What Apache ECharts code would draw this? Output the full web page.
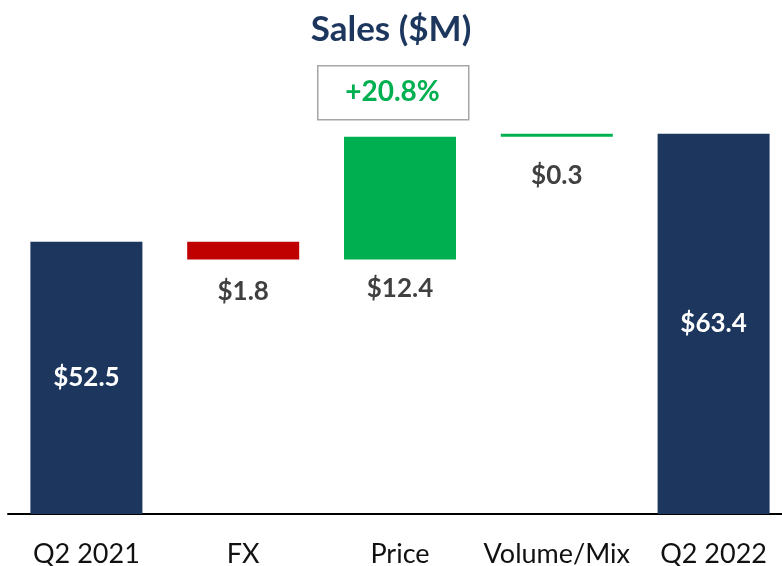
<!DOCTYPE html>
<html>
<head>
<meta charset="utf-8">
<script src="https://cdn.jsdelivr.net/npm/echarts@6/dist/echarts.min.js"></script>
<style>
  html, body { margin: 0; padding: 0; background: #fff; }
  #chart { width: 782px; height: 566px; }
</style>
</head>
<body>
<div id="chart"></div>
<script>
const categories = ["Q2 2021", "FX", "Price", "Volume/Mix", "Q2 2022"];
// waterfall: hidden base + visible step
const baseValues = [0, 50.7, 50.7, 63.1, 0];
const stepValues = [52.5, 1.8, 12.4, 0.3, 63.4];
const stepColors = ["#1D365E", "#C00000", "#00B050", "#00B050", "#1D365E"];
const startTotal = 52.5;
const endTotal = 63.4;

const FONT = "Lato, 'Open Sans', sans-serif";
const NAVY = "#1D365E";
const GRAY_TEXT = "#404040";

let changePct = ((endTotal / startTotal - 1) * 100).toFixed(1);

let chartDom = document.getElementById("chart");
let myChart = echarts.init(chartDom);

// label placement per bar (totals inside, deltas below)
const labelSpots = [
  { position: "inside", color: "#fff", distance: 0 },
  { position: "bottom", color: GRAY_TEXT, distance: 19 },
  { position: "bottom", color: GRAY_TEXT, distance: 16 },
  { position: "bottom", color: GRAY_TEXT, distance: 26 },
  { position: "inside", color: "#fff", distance: 0 },
];

let option = {
  animation: false,
  title: {
    text: "Sales ($M)",
    left: "center",
    top: 7,
    textStyle: {
      fontFamily: FONT,
      fontSize: 35,
      fontWeight: "bold",
      color: NAVY,
    },
  },
  graphic: [
    {
      type: "rect",
      left: 317,
      top: 65,
      shape: { width: 151, height: 54 },
      style: { fill: "#fff", stroke: "#A6A6A6", lineWidth: 1.5 },
    },
    {
      type: "text",
      x: 392.5,
      y: 92,
      style: {
        text: `+${changePct}%`,
        fill: "#00B050",
        font: `bold 28px ${FONT}`,
        align: "center",
        verticalAlign: "middle",
      },
    },
  ],
  grid: {
    left: 8,
    right: -10,
    top: 68.5,
    bottom: 52,
    containLabel: false,
    outerBoundsMode: "none",
  },
  xAxis: {
    type: "category",
    data: categories,
    axisLine: { show: true, lineStyle: { color: "#000", width: 2 } },
    axisTick: { show: false },
    axisLabel: {
      interval: 0,
      margin: 27,
      fontFamily: FONT,
      fontSize: 27,
      color: "#111",
    },
  },
  yAxis: {
    type: "value",
    min: 25,
    max: 70,
    show: false,
    splitLine: { show: false },
  },
  series: [
    {
      name: "base",
      type: "bar",
      stack: "wf",
      barWidth: 112,
      itemStyle: { color: "transparent" },
      silent: true,
      data: baseValues,
    },
    {
      name: "step",
      type: "bar",
      stack: "wf",
      barWidth: 112,
      data: stepValues.map((v, i) => ({
        value: v,
        itemStyle: { color: stepColors[i] },
        label: {
          show: true,
          position: labelSpots[i].position,
          distance: labelSpots[i].distance,
          color: labelSpots[i].color,
          fontFamily: FONT,
          fontSize: 26,
          fontWeight: "bold",
          formatter: (p) => `$${p.value.toFixed(1)}`,
        },
      })),
    },
  ],
};

option && myChart.setOption(option);
</script>
</body>
</html>
